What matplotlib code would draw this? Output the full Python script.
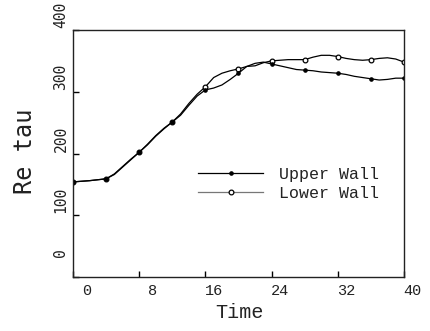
import matplotlib
matplotlib.use('Agg')
import matplotlib.pyplot as plt
from matplotlib.transforms import ScaledTranslation

# data
time = list(range(0, 41))
upper_wall = [154, 155, 156, 157.5, 159, 167, 179, 191, 202, 214,
              228, 240, 251, 262, 278, 293, 303, 306, 311, 320,
              330, 341, 346, 348, 345, 342, 339, 336, 335, 334,
              332, 331, 330, 328, 325, 323, 321, 319, 320, 322, 322]
lower_wall = [154, 155, 156, 157.5, 159, 166, 178, 190, 202, 215,
              229, 241, 251, 264, 281, 296, 308, 323, 330, 334,
              337, 341, 342, 347, 350, 351, 352, 352, 352, 356,
              359, 359, 357, 354, 352, 351, 352, 354, 355, 353, 348]

xticks = [0, 8, 16, 24, 32, 40]
yticks = [0, 100, 200, 300, 400]

mono = 'Liberation Mono'
sans_mono = 'DejaVu Sans Mono'

fig = plt.figure(figsize=(4.31, 3.31), dpi=100)
ax = fig.add_axes([73 / 431, 1 - 277 / 331, 331 / 431, 247 / 331])
ax.set_xlim(0, 40)
ax.set_ylim(0, 400)

ax.plot(time, upper_wall, color='black', lw=0.9, marker='o', markersize=2.3,
        markevery=4, mfc='black', mec='black', label='Upper Wall')
ax.plot(time, lower_wall, color='black', lw=0.9, marker='o', markersize=3.4,
        markevery=4, mfc='white', mec='black', mew=0.9, label='Lower Wall',
        zorder=1.9)

for sp in ax.spines.values():
    sp.set_linewidth(1.0)
    sp.set_color('#222222')

# inward ticks, labels drawn by hand so they sit like the original
ax.set_xticks(xticks)
ax.set_yticks(yticks)
ax.tick_params(direction='in', length=4, width=1, labelbottom=False, labelleft=False)

xt = ax.get_xaxis_transform() + ScaledTranslation(18 / 100, -7 / 100, fig.dpi_scale_trans)
for t in xticks:
    ax.text(t, 0, str(t), transform=xt, ha='right', va='top',
            fontsize=11, family=mono, color='#222222')

for v in yticks:
    dy = 20 if v == 0 else 2
    yt = ax.get_yaxis_transform() + ScaledTranslation(-12 / 100, dy / 100, fig.dpi_scale_trans)
    ax.text(0, v, str(v), transform=yt, rotation=90, ha='left', va='center',
            fontsize=10.5, family=sans_mono, color='#222222', rotation_mode='anchor')

fig.text(240 / 431, 1 - 313 / 331, 'Time', ha='center', va='center',
         fontsize=14.5, family=mono, color='#222222')
fig.text(25 / 431, 1 - 151 / 331, 'Re tau', ha='center', va='center', rotation=90,
         fontsize=17, family=sans_mono, color='#222222')

leg = ax.legend(loc='center left', bbox_to_anchor=((198 - 73) / 331, (277 - 184) / 247),
                frameon=False, borderpad=0, borderaxespad=0, handlelength=3.9,
                handletextpad=0.95, labelspacing=0.2, numpoints=1,
                prop={'family': mono, 'size': 12})
for txt in leg.get_texts():
    txt.set_color('#222222')
leg.legend_handles[1].set_color('#777777')
leg.legend_handles[1].set_markeredgecolor('black')

fig.savefig('out.png', dpi=100)
